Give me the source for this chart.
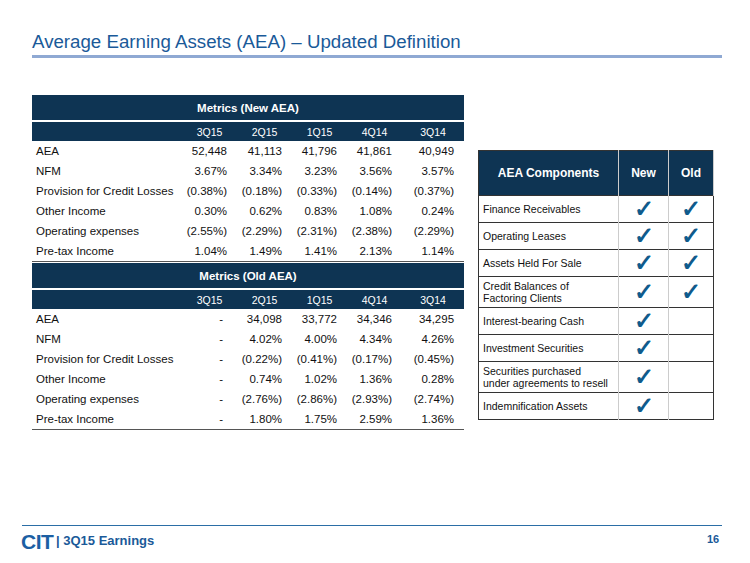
<!DOCTYPE html>
<html><head><meta charset="utf-8">
<script src="https://cdn.jsdelivr.net/npm/chart.js@4"></script>
<style>
body{margin:0;width:750px;height:563px;background:#fff;font-family:"Liberation Sans",Arial,sans-serif;position:relative;overflow:hidden}
.abs{position:absolute}
#title{left:32px;top:31px;font-size:18.7px;color:#1a5a99}
#rule{left:32px;top:55px;width:690px;height:3px;background:#8fa9d3}
table{border-collapse:collapse;position:absolute;font-size:11.5px;color:#111;table-layout:fixed}
.mt{left:32px;width:432px}
.mt th.h{background:#0e3453;color:#fff;font-weight:bold;height:23px;font-size:11.5px;border-bottom:2px solid #fff}
.mt tr.c td{background:#0e3453;color:#fff;height:19px;font-size:10.5px;text-align:center;padding:0}
.mt td{height:20px;padding:0;text-align:right;padding-right:10px}
.mt td.l{text-align:left;padding-left:4px;padding-right:0}
.mt tr.last td{border-bottom:1px solid #555}
#comp{left:478px;top:150px;width:235px;border:1px solid #333}
#comp th{background:#0e3453;color:#fff;height:42px;font-size:12px;border-right:1px solid #ccc}
#comp td{border-top:1px solid #333;font-size:10.5px;padding:0 0 0 4px;height:26px;line-height:12px}
#comp td.k{text-align:center;border-left:1px solid #ccc;color:#0f5b8c;font-size:24px;font-weight:bold;padding:0;line-height:20px}
#foot{left:22px;top:525px;width:700px;height:1px;background:#2b6ea6}
#logo{left:21px;top:530px;font:bold 21px "Liberation Sans",Arial;color:#1c5fa3;letter-spacing:-0.5px}
#ftxt{left:56px;top:533px;font:bold 13px "Liberation Sans",Arial;color:#1a5a99}
#pg{left:707px;top:533px;font:bold 11px "Liberation Sans",Arial;color:#1a5a99}
</style></head><body>
<div id="title" class="abs">Average Earning Assets (AEA) – Updated Definition</div>
<div id="rule" class="abs"></div>
<table id="tNew" class="mt" style="top:95px"></table>
<table id="tOld" class="mt" style="top:263px"></table>
<table id="comp"></table>
<div id="foot" class="abs"></div>
<div id="logo" class="abs">CIT</div>
<div id="ftxt" class="abs">| 3Q15 Earnings</div>
<div id="pg" class="abs">16</div>
<script>
const quarters = ['3Q15','2Q15','1Q15','4Q14','3Q14'];
const metrics = ['AEA','NFM','Provision for Credit Losses','Other Income','Operating expenses','Pre-tax Income'];
const newAEA = [
  ['52,448','41,113','41,796','41,861','40,949'],
  ['3.67%','3.34%','3.23%','3.56%','3.57%'],
  ['(0.38%)','(0.18%)','(0.33%)','(0.14%)','(0.37%)'],
  ['0.30%','0.62%','0.83%','1.08%','0.24%'],
  ['(2.55%)','(2.29%)','(2.31%)','(2.38%)','(2.29%)'],
  ['1.04%','1.49%','1.41%','2.13%','1.14%']
];
const oldAEA = [
  ['-','34,098','33,772','34,346','34,295'],
  ['-','4.02%','4.00%','4.34%','4.26%'],
  ['-','(0.22%)','(0.41%)','(0.17%)','(0.45%)'],
  ['-','0.74%','1.02%','1.36%','0.28%'],
  ['-','(2.76%)','(2.86%)','(2.93%)','(2.74%)'],
  ['-','1.80%','1.75%','2.59%','1.36%']
];
const components = ['Finance Receivables','Operating Leases','Assets Held For Sale','Credit Balances of<br>Factoring Clients','Interest-bearing Cash','Investment Securities','Securities purchased<br>under agreements to resell','Indemnification Assets'];
const inNew = [1,1,1,1,1,1,1,1];
const inOld = [1,1,1,1,0,0,0,0];

function buildMetrics(id, title, rows) {
  let h = '<colgroup><col style="width:150px">' + quarters.map((q, i) => `<col style="width:${i === 4 ? 62 : 55}px">`).join('') + '</colgroup>';
  h += `<tr><th class="h" colspan="6">${title}</th></tr><tr class="c"><td></td>` +
    quarters.map(q => `<td>${q}</td>`).join('') + '</tr>';
  rows.forEach((r, i) => {
    h += `<tr${i === rows.length - 1 ? ' class="last"' : ''}><td class="l">${metrics[i]}</td>` +
      r.map(v => `<td${v === '-' ? ' style="padding-right:14px"' : ''}>${v}</td>`).join('') + '</tr>';
  });
  document.getElementById(id).innerHTML = h;
}
buildMetrics('tNew', 'Metrics (New AEA)', newAEA);
buildMetrics('tOld', 'Metrics (Old AEA)', oldAEA);

let c = '<colgroup><col style="width:140px"><col style="width:50px"><col style="width:45px"></colgroup>';
c += '<tr><th>AEA Components</th><th>New</th><th>Old</th></tr>';
components.forEach((n, i) => {
  const tall = n.includes('<br>') ? ' style="height:30px"' : '';
  c += `<tr><td${tall}>${n}</td><td class="k">${inNew[i] ? '✓' : ''}</td><td class="k">${inOld[i] ? '✓' : ''}</td></tr>`;
});
document.getElementById('comp').innerHTML = c;
</script>
</body></html>
